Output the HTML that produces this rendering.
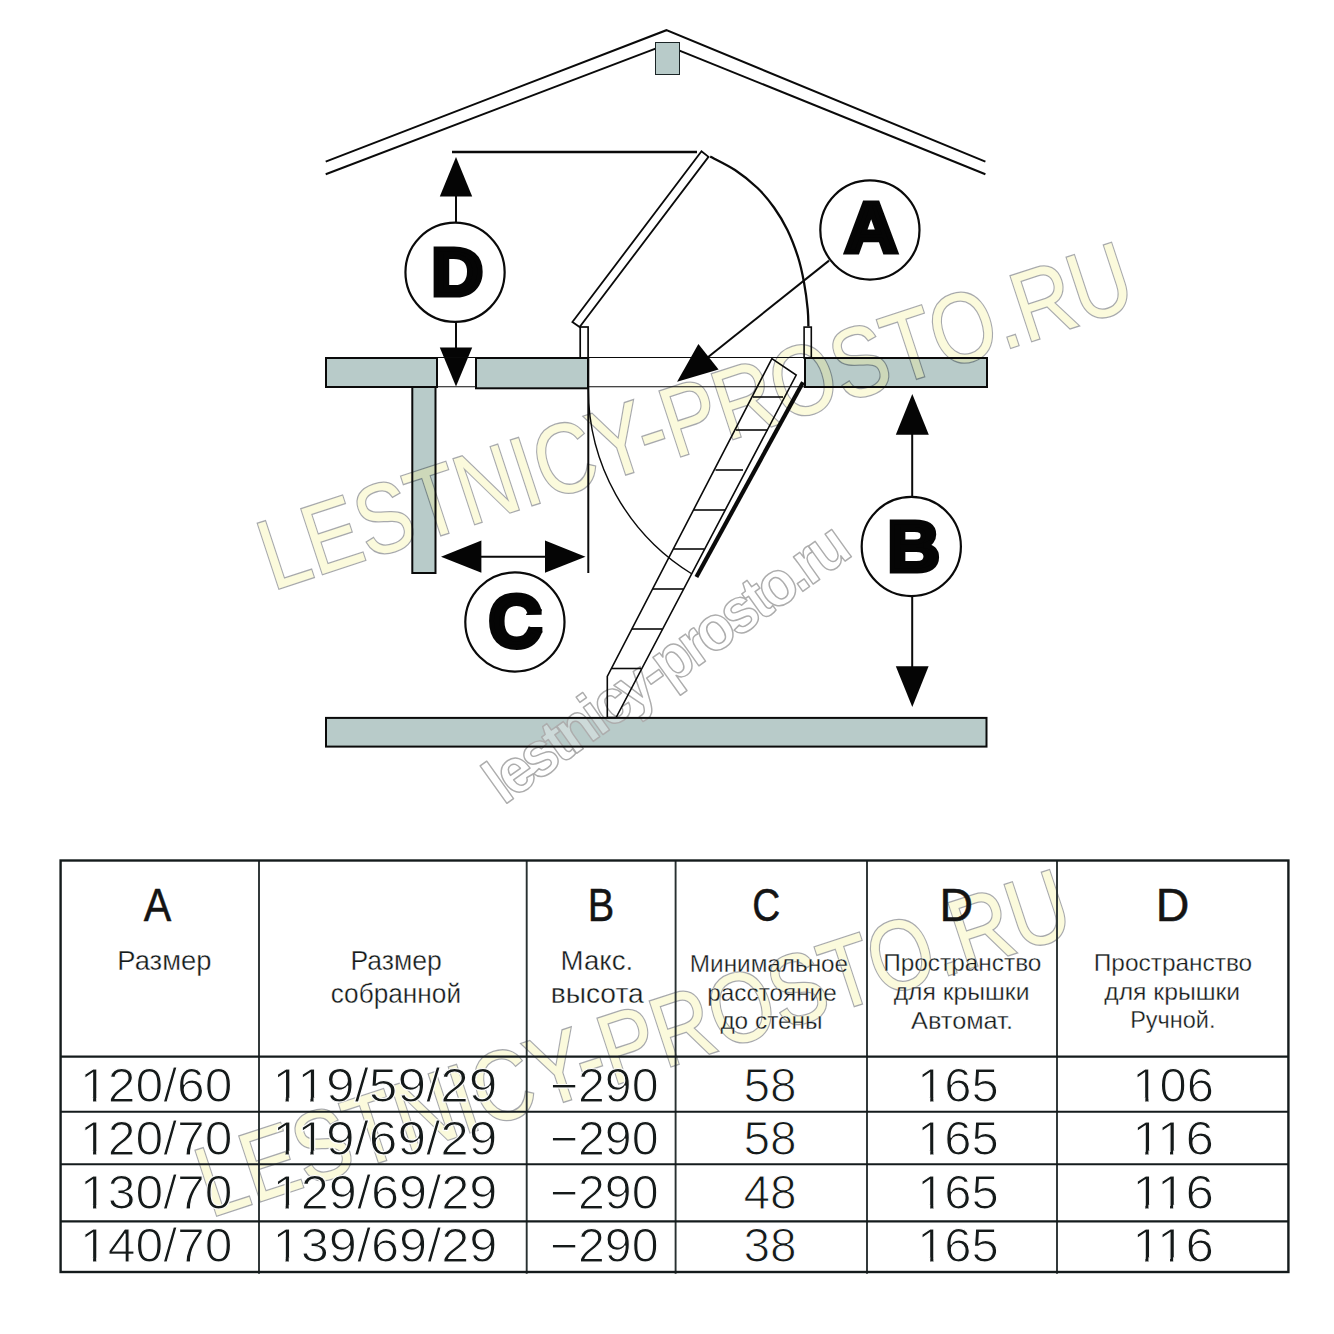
<!DOCTYPE html>
<html lang="ru">
<head>
<meta charset="utf-8">
<style>
html,body{margin:0;padding:0;background:#fff;}
body{width:1334px;height:1334px;overflow:hidden;}
svg{display:block;}
.ln{stroke:#0a0a0a;fill:none;}
.gf{fill:#b8cbc9;stroke:none;}
.g{fill:none;stroke:#0a0a0a;stroke-width:2;}
.w{fill:none;stroke:#0a0a0a;stroke-width:2;}
.blk{fill:#050505;stroke:none;}
.big{font-family:"Liberation Sans",sans-serif;font-weight:700;fill:#050505;stroke:#050505;stroke-linejoin:miter;text-anchor:middle;}
.tl{stroke:#141b1c;stroke-width:2.4;fill:none;}
.hd{font-family:"Liberation Sans",sans-serif;font-size:46.5px;fill:#141414;stroke:#141414;stroke-width:.5;text-anchor:middle;}
.sm{font-family:"Liberation Sans",sans-serif;font-size:28px;fill:#151a1a;text-anchor:middle;stroke:#fff;stroke-width:.35;}
.sm2{font-family:"Liberation Sans",sans-serif;font-size:24px;fill:#151a1a;text-anchor:middle;stroke:#fff;stroke-width:.3;}
.nm{font-family:"Liberation Sans",sans-serif;font-size:48px;fill:#151a1a;text-anchor:middle;stroke:#fff;stroke-width:1.1;}
.wm1{font-family:"Liberation Sans",sans-serif;font-size:98.8px;fill:#f6f39b;stroke:#00060f;stroke-width:2.7;paint-order:stroke fill;stroke-linejoin:miter;}
.wm2{font-family:"Liberation Sans",sans-serif;font-weight:700;font-size:63.5px;letter-spacing:-4.5px;fill:#fff;fill-opacity:.3;stroke:#adadad;stroke-width:1.5;stroke-linejoin:round;}
</style>
</head>
<body>
<svg width="1334" height="1334" viewBox="0 0 1334 1334">
<rect width="1334" height="1334" fill="#fff"/>
<!-- fills -->
<g class="gf">
<rect x="655.5" y="42.5" width="24" height="32"/>
<rect x="326" y="358" width="111" height="29"/>
<rect x="476" y="358" width="112" height="30.3"/>
<rect x="805" y="358" width="182" height="29"/>
<rect x="412.3" y="387" width="23.2" height="186"/>
<rect x="326" y="717.9" width="660.5" height="28.7"/>
</g>
<!-- watermarks under the line work -->
<g opacity=".34">
<text class="wm1" transform="translate(272.7,590.4) rotate(-18.2)" textLength="911.5" lengthAdjust="spacingAndGlyphs">LESTNICY-PROSTO.RU</text>
</g>
<text class="wm2" transform="translate(503.4,805.7) rotate(-35.6) scale(.94,1)">lestnicy-prosto.ru</text>

<!-- roof -->
<g class="ln" stroke-width="2">
<polyline points="325.7,161.6 666.4,30.2 985.4,161.6"/>
<polyline points="325.7,174.2 655.5,48.6"/>
<polyline points="679.5,50.6 985.4,174.2"/>
</g>
<rect x="655.5" y="42.5" width="24" height="32" fill="none" stroke="#1b2526" stroke-width="1"/>

<!-- D dimension -->
<line class="ln" stroke-width="2.4" x1="452" y1="152.05" x2="697" y2="152.05"/>
<line class="ln" stroke-width="2" x1="456" y1="190" x2="456" y2="355"/>
<polygon class="blk" points="456,157 439.8,196.5 472.2,196.5"/>
<polygon class="blk" points="456,386.5 439.8,347.5 472.2,347.5"/>
<circle cx="455.05" cy="272.3" r="49.6" fill="#fff" stroke="#0a0a0a" stroke-width="2.2"/>
<text class="big" x="457.3" y="295.3" font-size="67" stroke-width="5" textLength="51.5" lengthAdjust="spacingAndGlyphs">D</text>

<!-- ceiling -->
<rect class="g" x="326" y="358" width="111" height="29"/>
<line class="ln" stroke-width="1.1" x1="437" y1="357.5" x2="476" y2="357.5"/>
<line class="ln" stroke-width="1.1" x1="437" y1="386.8" x2="476" y2="386.8"/>
<rect class="g" x="476" y="358" width="112" height="30.3"/>
<line class="ln" stroke-width="1.1" x1="588" y1="357.5" x2="805" y2="357.5"/>
<line class="ln" stroke-width="1.1" x1="588" y1="386.8" x2="805" y2="386.8"/>
<rect class="g" x="805" y="358" width="182" height="29"/>
<rect class="g" x="412.3" y="387" width="23.2" height="186"/>
<rect class="g" x="326" y="717.9" width="660.5" height="28.7"/>

<!-- posts -->
<rect class="w" x="580.2" y="327" width="7.9" height="31" style="stroke-width:1.7"/>
<rect class="w" x="804.1" y="327.1" width="7.2" height="31" style="stroke-width:1.6"/>

<!-- lid raised -->
<polygon class="w" points="572.4,322 701.5,151.3 708.5,156.8 579.6,327" style="stroke-width:1.8"/>
<!-- arcs -->
<path class="ln" stroke-width="2.3" d="M710.2,156.5 C714.3,158.8 727.1,164.8 735.0,170.0 C742.9,175.2 751.0,181.8 757.5,188.0 C764.0,194.2 769.0,200.5 774.0,207.5 C779.0,214.5 783.4,221.8 787.4,230.0 C791.4,238.2 795.2,248.3 798.0,257.0 C800.8,265.7 802.4,273.7 804.0,282.4 C805.6,291.1 807.0,302.0 807.7,309.4 C808.4,316.8 808.3,323.6 808.4,326.5"/>
<path class="ln" stroke-width="1.4" d="M588.3,388 A217.5,217.5 0 0 0 692,574"/>
<line class="ln" stroke-width="2" x1="588.3" y1="358" x2="588.3" y2="573"/>

<!-- ladder -->
<polygon points="771.9,358.6 796.2,375.1 616.1,717.5 607.3,717.5 607.3,676.4" fill="none" stroke="#0a0a0a" stroke-width="1.6" stroke-linejoin="miter"/>
<g class="ln" stroke-width="1.6">
<line x1="753" y1="397" x2="783" y2="397"/>
<line x1="736" y1="430" x2="768" y2="430"/>
<line x1="715.5" y1="470" x2="743" y2="470"/>
<line x1="694" y1="510" x2="725" y2="510"/>
<line x1="673.5" y1="549" x2="704" y2="549"/>
<line x1="653" y1="589" x2="683.5" y2="589"/>
<line x1="632" y1="629" x2="662" y2="629"/>
<line x1="611.8" y1="668.5" x2="641" y2="668.5"/>
</g>
<line class="ln" stroke-width="4.2" x1="803" y1="382.3" x2="696.4" y2="577"/>

<!-- A -->
<line class="ln" stroke-width="2" x1="829" y1="260.6" x2="706" y2="358.7"/>
<polygon class="blk" points="677.1,381.8 698.4,344 718.6,369.5"/>
<circle cx="869.9" cy="230" r="49.6" fill="#fff" stroke="#0a0a0a" stroke-width="2.2"/>
<text class="big" x="871.1" y="252" font-size="70.5" stroke-width="5" textLength="52.8" lengthAdjust="spacingAndGlyphs">A</text>

<!-- B -->
<line class="ln" stroke-width="2" x1="912.2" y1="430" x2="912.2" y2="670"/>
<polygon class="blk" points="912.3,394 895.8,434.7 928.8,434.7"/>
<polygon class="blk" points="912.3,707 895.8,666.2 928.6,666.2"/>
<circle cx="911.3" cy="546.5" r="49.6" fill="#fff" stroke="#0a0a0a" stroke-width="2.2"/>
<text class="big" x="913.6" y="571.3" font-size="70.5" stroke-width="5" textLength="52.3" lengthAdjust="spacingAndGlyphs">B</text>

<!-- C -->
<line class="ln" stroke-width="2" x1="475" y1="556.7" x2="550" y2="556.7"/>
<polygon class="blk" points="441,556.7 481.4,540.5 481.4,572.8"/>
<polygon class="blk" points="585.5,556.7 545,540.5 545,572.8"/>
<circle cx="514.9" cy="622" r="49.6" fill="#fff" stroke="#0a0a0a" stroke-width="2.2"/>
<text class="big" x="515" y="646.7" font-size="75" stroke-width="5" textLength="52.8" lengthAdjust="spacingAndGlyphs">C</text>

<polygon class="blk" points="526,615 526.5,613.5 541.6,609 541.6,614.8"/>
<polygon class="blk" points="528.5,626.9 529,628.2 542.4,632.8 542.4,626.9"/>

<!-- TABLE -->
<g id="table" style="opacity:.999">
<g opacity=".34"><text class="wm1" transform="translate(210.6,1217.6) rotate(-18.2)" textLength="911.5" lengthAdjust="spacingAndGlyphs">LESTNICY-PROSTO.RU</text></g>
<g stroke="#283031" stroke-width="1.9" fill="none">
<line x1="259" y1="860.5" x2="259" y2="1273.8"/>
<line x1="526.7" y1="860.5" x2="526.7" y2="1273.8"/>
<line x1="675.6" y1="860.5" x2="675.6" y2="1273.8"/>
<line x1="867" y1="860.5" x2="867" y2="1273.8"/>
<line x1="1057" y1="860.5" x2="1057" y2="1273.8"/>
</g>
<g stroke="#141b1c" stroke-width="2.1" fill="none">
<line x1="60.5" y1="1056.6" x2="1288.5" y2="1056.6"/>
<line x1="60.5" y1="1111.8" x2="1288.5" y2="1111.8"/>
<line x1="60.5" y1="1164.3" x2="1288.5" y2="1164.3"/>
<line x1="60.5" y1="1221.4" x2="1288.5" y2="1221.4"/>
</g>
<rect class="tl" x="60.6" y="860.5" width="1227.8" height="411.5"/>
<g class="hd">
<text x="157.5" y="920.8" textLength="27.5" lengthAdjust="spacingAndGlyphs">A</text>
<text x="601" y="920.8" textLength="26.5" lengthAdjust="spacingAndGlyphs">B</text>
<text x="766.3" y="920.8" textLength="28" lengthAdjust="spacingAndGlyphs">C</text>
<text x="956.2" y="920.5">D</text>
<text x="1172.6" y="920.6">D</text>
</g>
<text class="sm" x="164.4" y="969.7" textLength="94.1" lengthAdjust="spacingAndGlyphs">Размер</text>
<text class="sm" x="396.2" y="969.7" textLength="91.4" lengthAdjust="spacingAndGlyphs">Размер</text>
<text class="sm" x="395.9" y="1002.5" textLength="130.4" lengthAdjust="spacingAndGlyphs">собранной</text>
<text class="sm" x="596.9" y="969.7" textLength="72.6" lengthAdjust="spacingAndGlyphs">Макс.</text>
<text class="sm" x="597.2" y="1002.5" textLength="93.1" lengthAdjust="spacingAndGlyphs">высота</text>
<text class="sm2" x="769.0" y="971.8" textLength="158.3" lengthAdjust="spacingAndGlyphs">Минимальное</text>
<text class="sm2" x="772.0" y="1000.9" textLength="129.5" lengthAdjust="spacingAndGlyphs">расстояние</text>
<text class="sm2" x="771.5" y="1028.8" textLength="102.2" lengthAdjust="spacingAndGlyphs">до стены</text>
<text class="sm2" x="962.3" y="970.9" textLength="158.3" lengthAdjust="spacingAndGlyphs">Пространство</text>
<text class="sm2" x="961.6" y="1000" textLength="135.8" lengthAdjust="spacingAndGlyphs">для крышки</text>
<text class="sm2" x="962.0" y="1028.8" textLength="101.9" lengthAdjust="spacingAndGlyphs">Автомат.</text>
<text class="sm2" x="1173.0" y="970.7" textLength="158.4" lengthAdjust="spacingAndGlyphs">Пространство</text>
<text class="sm2" x="1172.2" y="999.7" textLength="135.9" lengthAdjust="spacingAndGlyphs">для крышки</text>
<text class="sm2" x="1172.8" y="1028.4" textLength="85.3" lengthAdjust="spacingAndGlyphs">Ручной.</text>
<clipPath id="nofeet"><path clip-rule="evenodd" d="M0,1040H1334V1300H0ZM82.50,1097.5H93.10V1102.8H82.50ZM96.20,1097.5H107.20V1102.8H96.20ZM82.50,1150.6H93.10V1155.9H82.50ZM96.20,1150.6H107.20V1155.9H96.20ZM82.50,1204.7H93.10V1210.0H82.50ZM96.20,1204.7H107.20V1210.0H96.20ZM82.50,1257.3H93.10V1262.6H82.50ZM96.20,1257.3H107.20V1262.6H96.20ZM275.05,1097.5H285.65V1102.8H275.05ZM288.75,1097.5H299.75V1102.8H288.75ZM299.82,1097.5H310.42V1102.8H299.82ZM313.52,1097.5H324.52V1102.8H313.52ZM275.05,1150.6H285.65V1155.9H275.05ZM288.75,1150.6H299.75V1155.9H288.75ZM299.82,1150.6H310.42V1155.9H299.82ZM313.52,1150.6H324.52V1155.9H313.52ZM275.05,1204.7H285.65V1210.0H275.05ZM288.75,1204.7H299.75V1210.0H288.75ZM275.05,1257.3H285.65V1262.6H275.05ZM288.75,1257.3H299.75V1262.6H288.75ZM919.65,1097.5H930.25V1102.8H919.65ZM933.35,1097.5H944.35V1102.8H933.35ZM919.65,1150.6H930.25V1155.9H919.65ZM933.35,1150.6H944.35V1155.9H933.35ZM919.65,1204.7H930.25V1210.0H919.65ZM933.35,1204.7H944.35V1210.0H933.35ZM919.65,1257.3H930.25V1262.6H919.65ZM933.35,1257.3H944.35V1262.6H933.35ZM1134.75,1097.5H1145.35V1102.8H1134.75ZM1148.45,1097.5H1159.45V1102.8H1148.45ZM1134.75,1150.6H1145.35V1155.9H1134.75ZM1148.45,1150.6H1159.45V1155.9H1148.45ZM1159.44,1150.6H1170.04V1155.9H1159.44ZM1173.14,1150.6H1184.14V1155.9H1173.14ZM1134.75,1204.7H1145.35V1210.0H1134.75ZM1148.45,1204.7H1159.45V1210.0H1148.45ZM1159.44,1204.7H1170.04V1210.0H1159.44ZM1173.14,1204.7H1184.14V1210.0H1173.14ZM1134.75,1257.3H1145.35V1262.6H1134.75ZM1148.45,1257.3H1159.45V1262.6H1148.45ZM1159.44,1257.3H1170.04V1262.6H1159.44ZM1173.14,1257.3H1184.14V1262.6H1173.14Z"/></clipPath>
<g class="nm" clip-path="url(#nofeet)">
<text x="156.2" y="1101.8" textLength="152.4" lengthAdjust="spacingAndGlyphs">120/60</text>
<text x="156.2" y="1154.9" textLength="152.4" lengthAdjust="spacingAndGlyphs">120/70</text>
<text x="156.2" y="1209" textLength="152.4" lengthAdjust="spacingAndGlyphs">130/70</text>
<text x="156.2" y="1261.6" textLength="152.4" lengthAdjust="spacingAndGlyphs">140/70</text>
<text x="385.0" y="1101.8" textLength="224.9" lengthAdjust="spacingAndGlyphs">119/59/29</text>
<text x="385.0" y="1154.9" textLength="224.9" lengthAdjust="spacingAndGlyphs">119/69/29</text>
<text x="385.0" y="1209" textLength="224.9" lengthAdjust="spacingAndGlyphs">129/69/29</text>
<text x="385.0" y="1261.6" textLength="224.9" lengthAdjust="spacingAndGlyphs">139/69/29</text>
<text x="604.2" y="1101.8" textLength="109.0" lengthAdjust="spacingAndGlyphs">−290</text>
<text x="604.2" y="1154.9" textLength="109.0" lengthAdjust="spacingAndGlyphs">−290</text>
<text x="604.2" y="1209" textLength="109.0" lengthAdjust="spacingAndGlyphs">−290</text>
<text x="604.2" y="1261.6" textLength="109.0" lengthAdjust="spacingAndGlyphs">−290</text>
<text x="770.0" y="1101.8" textLength="53.2" lengthAdjust="spacingAndGlyphs">58</text>
<text x="770.0" y="1154.9" textLength="53.2" lengthAdjust="spacingAndGlyphs">58</text>
<text x="770.0" y="1209" textLength="53.2" lengthAdjust="spacingAndGlyphs">48</text>
<text x="770.0" y="1261.6" textLength="53.2" lengthAdjust="spacingAndGlyphs">38</text>
<text x="958.0" y="1101.8" textLength="81.7" lengthAdjust="spacingAndGlyphs">165</text>
<text x="958.0" y="1154.9" textLength="81.7" lengthAdjust="spacingAndGlyphs">165</text>
<text x="958.0" y="1209" textLength="81.7" lengthAdjust="spacingAndGlyphs">165</text>
<text x="958.0" y="1261.6" textLength="81.7" lengthAdjust="spacingAndGlyphs">165</text>
<text x="1173.1" y="1101.8" textLength="81.7" lengthAdjust="spacingAndGlyphs">106</text>
<text x="1173.1" y="1154.9" textLength="81.7" lengthAdjust="spacingAndGlyphs">116</text>
<text x="1173.1" y="1209" textLength="81.7" lengthAdjust="spacingAndGlyphs">116</text>
<text x="1173.1" y="1261.6" textLength="81.7" lengthAdjust="spacingAndGlyphs">116</text>
</g>
</g>
</svg>
</body>
</html>
